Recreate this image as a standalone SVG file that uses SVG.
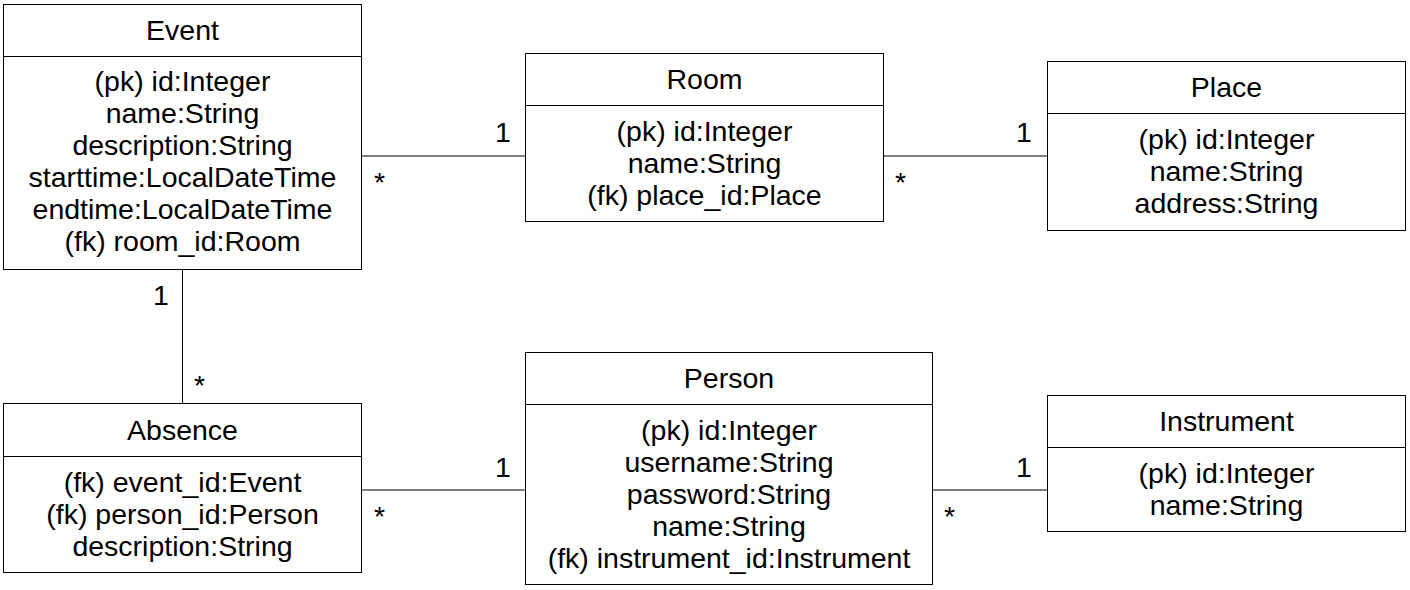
<svg xmlns="http://www.w3.org/2000/svg" width="1410" height="590" viewBox="0 0 1410 590">
<style>
.box{fill:#fff;stroke:#000;stroke-width:1}
.sep{stroke:#000;stroke-width:1}
.con{stroke:#000;stroke-width:1;fill:none}
text{font-family:"Liberation Sans",Arial,sans-serif;font-size:28.5px;fill:#000}
.c{text-anchor:middle}
</style>
<rect width="1410" height="590" fill="#fff"/>
<g id="connectors">
<line class="con" x1="362" y1="156" x2="525" y2="156"/>
<line class="con" x1="883" y1="156" x2="1047" y2="156"/>
<line class="con" x1="182.5" y1="269" x2="182.5" y2="404"/>
<line class="con" x1="362" y1="490" x2="525" y2="490"/>
<line class="con" x1="932" y1="490" x2="1047" y2="490"/>
<text x="374" y="192">*</text>
<text x="495" y="142">1</text>
<text x="895" y="192">*</text>
<text x="1016" y="142">1</text>
<text x="153" y="305">1</text>
<text x="194" y="395">*</text>
<text x="374" y="526">*</text>
<text x="495" y="477">1</text>
<text x="944" y="526">*</text>
<text x="1016" y="477">1</text>
</g>
<g id="event">
<rect class="box" x="3.5" y="4.5" width="358" height="265"/>
<line class="sep" x1="3.5" y1="56.5" x2="361.5" y2="56.5"/>
<text class="c" x="182.5" y="40">Event</text>
<text class="c" x="182.5" y="91">(pk) id:Integer</text>
<text class="c" x="182.5" y="123">name:String</text>
<text class="c" x="182.5" y="155">description:String</text>
<text class="c" x="182.5" y="187">starttime:LocalDateTime</text>
<text class="c" x="182.5" y="219">endtime:LocalDateTime</text>
<text class="c" x="182.5" y="251">(fk) room_id:Room</text>
</g>
<g id="room">
<rect class="box" x="525.5" y="53.5" width="358" height="168"/>
<line class="sep" x1="525.5" y1="105.5" x2="883.5" y2="105.5"/>
<text class="c" x="704.5" y="89">Room</text>
<text class="c" x="704.5" y="141">(pk) id:Integer</text>
<text class="c" x="704.5" y="173">name:String</text>
<text class="c" x="704.5" y="205">(fk) place_id:Place</text>
</g>
<g id="place">
<rect class="box" x="1047.5" y="61.5" width="358" height="169"/>
<line class="sep" x1="1047.5" y1="113.5" x2="1405.5" y2="113.5"/>
<text class="c" x="1226.5" y="97">Place</text>
<text class="c" x="1226.5" y="149">(pk) id:Integer</text>
<text class="c" x="1226.5" y="181">name:String</text>
<text class="c" x="1226.5" y="213">address:String</text>
</g>
<g id="absence">
<rect class="box" x="3.5" y="403.5" width="358" height="169"/>
<line class="sep" x1="3.5" y1="456.5" x2="361.5" y2="456.5"/>
<text class="c" x="182.5" y="440">Absence</text>
<text class="c" x="182.5" y="492">(fk) event_id:Event</text>
<text class="c" x="182.5" y="524">(fk) person_id:Person</text>
<text class="c" x="182.5" y="556">description:String</text>
</g>
<g id="person">
<rect class="box" x="525.5" y="352.5" width="407" height="232"/>
<line class="sep" x1="525.5" y1="404.5" x2="932.5" y2="404.5"/>
<text class="c" x="729" y="388">Person</text>
<text class="c" x="729" y="440">(pk) id:Integer</text>
<text class="c" x="729" y="472">username:String</text>
<text class="c" x="729" y="504">password:String</text>
<text class="c" x="729" y="536">name:String</text>
<text class="c" x="729" y="568">(fk) instrument_id:Instrument</text>
</g>
<g id="instrument">
<rect class="box" x="1047.5" y="395.5" width="358" height="136"/>
<line class="sep" x1="1047.5" y1="447.5" x2="1405.5" y2="447.5"/>
<text class="c" x="1226.5" y="431">Instrument</text>
<text class="c" x="1226.5" y="483">(pk) id:Integer</text>
<text class="c" x="1226.5" y="515">name:String</text>
</g>
</svg>
